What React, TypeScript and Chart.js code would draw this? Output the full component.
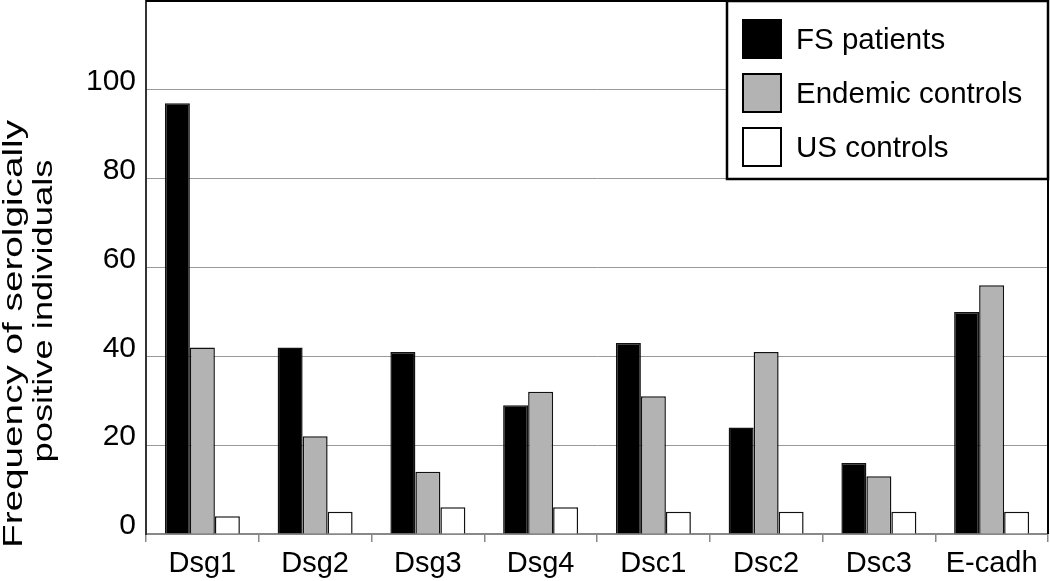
import React, { useEffect, useRef } from "react";
import { Chart, registerables } from "chart.js";

Chart.register(...registerables);

const categories = ["Dsg1", "Dsg2", "Dsg3", "Dsg4", "Dsc1", "Dsc2", "Dsc3", "E-cadh"];
const fsPatients = [97, 42, 41, 29, 43, 24, 16, 50];
const endemicControls = [42, 22, 14, 32, 31, 41, 13, 56];
const usControls = [4, 5, 6, 6, 5, 5, 5, 5];
const seriesNames = ["FS patients", "Endemic controls", "US controls"];
const seriesColors = ["#000000", "#b3b3b3", "#ffffff"];
const yTitleLines = ["Frequency of serolgically", "positive individuals"];
const yMax = 120;
const yStep = 20;

const FONT = "'Liberation Sans', Arial, Helvetica, sans-serif";

const decorPlugin = {
  id: "decor",
  afterDraw(chart: any) {
    const { ctx, chartArea: a } = chart;
    ctx.save();
    // top & right frame
    ctx.strokeStyle = "#000";
    ctx.lineWidth = 2;
    ctx.beginPath();
    ctx.moveTo(a.left, a.top);
    ctx.lineTo(a.right, a.top);
    ctx.lineTo(a.right, a.bottom);
    ctx.stroke();

    // legend box
    const bx = a.right - 321;
    const by = a.top;
    const bw = 321;
    const bh = 178;
    ctx.fillStyle = "#fff";
    ctx.fillRect(bx, by, bw, bh);
    ctx.lineWidth = 2.5;
    ctx.strokeStyle = "#000";
    ctx.strokeRect(bx, by, bw, bh);
    const ds = chart.data.datasets;
    ctx.font = `29.5px ${FONT}`;
    ctx.textAlign = "left";
    ctx.textBaseline = "middle";
    for (let i = 0; i < ds.length; i++) {
      const cy = by + 38 + i * 54;
      ctx.fillStyle = ds[i].backgroundColor;
      ctx.fillRect(bx + 16, cy - 19, 38, 38);
      ctx.lineWidth = 2;
      ctx.strokeStyle = "#000";
      ctx.strokeRect(bx + 16, cy - 19, 38, 38);
      ctx.fillStyle = "#000";
      ctx.fillText(ds[i].label, bx + 69, cy + 2);
    }

    // y axis title (two rotated lines, stretched along text direction)
    const lines = [
      { text: yTitleLines[0], cx: 14, cy: 334, len: 428 },
      { text: yTitleLines[1], cx: 44, cy: 311, len: 303 },
    ];
    ctx.font = `28px ${FONT}`;
    ctx.textAlign = "center";
    ctx.textBaseline = "middle";
    ctx.fillStyle = "#000";
    for (const l of lines) {
      const w = ctx.measureText(l.text).width;
      ctx.save();
      ctx.translate(l.cx, l.cy);
      ctx.rotate(-Math.PI / 2);
      ctx.scale(l.len / w, 1);
      ctx.fillText(l.text, 0, 0);
      ctx.restore();
    }
    ctx.restore();
  },
};

export default function App() {
  const ref = useRef<HTMLCanvasElement | null>(null);

  useEffect(() => {
    if (!ref.current) return;
    const data = [fsPatients, endemicControls, usControls];
    const chart = new Chart(ref.current, {
      type: "bar",
      data: {
        labels: categories,
        datasets: data.map((d, i) => ({
          label: seriesNames[i],
          data: d,
          backgroundColor: seriesColors[i],
          borderColor: "#111",
          borderWidth: 1.5,
          categoryPercentage: 0.665,
          barPercentage: 1,
        })),
      },
      options: {
        responsive: false,
        animation: false,
        events: [],
        layout: { padding: { top: 1, right: 2, left: 0, bottom: 0 } },
        plugins: {
          legend: { display: false },
          tooltip: { enabled: false },
          title: { display: false },
        },
        scales: {
          x: {
            grid: {
              drawOnChartArea: false,
              drawTicks: true,
              tickLength: 8,
              color: "#888",
              lineWidth: 1.5,
              offset: true,
            },
            border: { display: true, color: "#888", width: 2 },
            ticks: {
              color: "#000",
              font: { family: FONT, size: 29 },
              padding: 5,
              maxRotation: 0,
              autoSkip: false,
            },
            afterFit(scale: any) {
              scale.height = 47;
              scale.paddingLeft = 0;
              scale.paddingRight = 0;
            },
          },
          y: {
            min: 0,
            max: yMax,
            grid: { color: "#999", lineWidth: 1, drawTicks: false },
            border: { display: true, color: "#333", width: 2 },
            ticks: {
              stepSize: yStep,
              color: "#000",
              font: { family: FONT, size: 30 },
              padding: 10,
              labelOffset: -8,
              callback: (v: any) => (Number(v) >= yMax ? "" : String(v)),
            },
            afterFit(scale: any) {
              scale.width = 146;
              scale.paddingTop = 0;
              scale.paddingBottom = 0;
            },
          },
        },
      },
      plugins: [decorPlugin],
    });
    return () => chart.destroy();
  }, []);

  return (
    <div style={{ position: "absolute", left: 0, top: 0, width: 1050, height: 581, background: "#fff" }}>
      <canvas ref={ref} width={1050} height={581} style={{ width: 1050, height: 581 }} />
    </div>
  );
}
